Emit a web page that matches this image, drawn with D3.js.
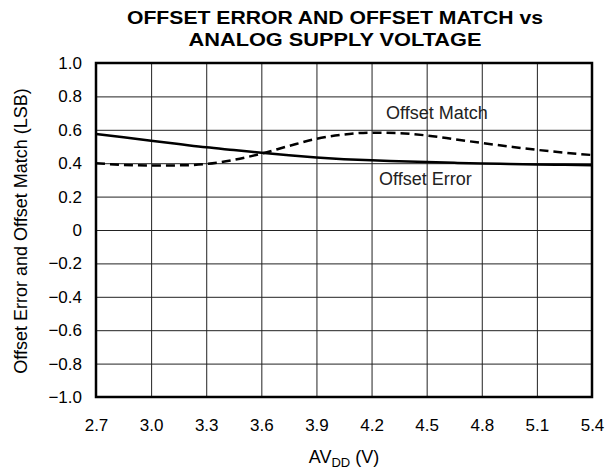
<!DOCTYPE html>
<html>
<head>
<meta charset="utf-8">
<script src="https://cdn.jsdelivr.net/npm/d3@7"></script>
<style>
  body { margin: 0; background: #fff; }
  svg { display: block; font-family: "Liberation Sans", Arial, sans-serif; }
</style>
</head>
<body>
<svg></svg>
<script>
// supply voltage (V)
const voltage = [2.7, 2.85, 3.0, 3.15, 3.3, 3.45, 3.6, 3.75, 3.9, 4.05, 4.2, 4.35, 4.5, 4.65, 4.8, 4.95, 5.1, 5.25, 5.4];
// offset error (LSB)
const offsetError = [0.575, 0.555, 0.535, 0.515, 0.495, 0.479, 0.463, 0.447, 0.434, 0.424, 0.417, 0.412, 0.407, 0.402, 0.398, 0.395, 0.392, 0.390, 0.388];
// offset match (LSB)
const offsetMatch = [0.400, 0.390, 0.386, 0.387, 0.395, 0.420, 0.457, 0.503, 0.546, 0.572, 0.583, 0.580, 0.566, 0.544, 0.521, 0.500, 0.480, 0.463, 0.449];

const xTicks = [2.7, 3.0, 3.3, 3.6, 3.9, 4.2, 4.5, 4.8, 5.1, 5.4];
const yTicks = [-1.0, -0.8, -0.6, -0.4, -0.2, 0, 0.2, 0.4, 0.6, 0.8, 1.0];

const W = 607, H = 473;
const plotLeft = 96, plotRight = 592, plotTop = 63, plotBottom = 397;
const width = plotRight - plotLeft;
const height = plotBottom - plotTop;

const svg = d3.select('svg')
              .attr('width', W)
              .attr('height', H);

const xScale = d3.scaleLinear()
                 .domain([2.7, 5.4])
                 .range([plotLeft, plotRight]);

const yScale = d3.scaleLinear()
                 .domain([-1, 1])
                 .range([plotBottom, plotTop]);

const fmtY = d => d === 0 ? '0' : d3.format('.1f')(d).replace('-', '\u2212');

// grid lines
svg.append('g')
   .attr('transform', `translate(${plotLeft},0)`)
   .call(d3.axisLeft(yScale).tickValues(yTicks).tickSize(-width).tickFormat(''))
   .call(g => g.select('.domain').remove())
   .call(g => g.selectAll('line').attr('stroke', '#222').attr('stroke-width', 1));

svg.append('g')
   .attr('transform', `translate(0,${plotBottom})`)
   .call(d3.axisBottom(xScale).tickValues(xTicks).tickSize(-height).tickFormat(''))
   .call(g => g.select('.domain').remove())
   .call(g => g.selectAll('line').attr('stroke', '#222').attr('stroke-width', 1));

// tick labels
svg.append('g')
   .attr('transform', `translate(${plotLeft},0)`)
   .call(d3.axisLeft(yScale).tickValues(yTicks).tickSize(0).tickPadding(14).tickFormat(fmtY))
   .call(g => g.select('.domain').remove())
   .call(g => g.selectAll('text').attr('font-size', 17).attr('fill', '#000')
                .attr('font-family', '"Liberation Sans", Arial, sans-serif'));

svg.append('g')
   .attr('transform', `translate(0,${plotBottom})`)
   .call(d3.axisBottom(xScale).tickValues(xTicks).tickSize(0).tickPadding(22).tickFormat(d3.format('.1f')))
   .call(g => g.select('.domain').remove())
   .call(g => g.selectAll('text').attr('font-size', 17).attr('fill', '#000')
                .attr('font-family', '"Liberation Sans", Arial, sans-serif'));

// frame
svg.append('rect')
   .attr('x', plotLeft)
   .attr('y', plotTop)
   .attr('width', width)
   .attr('height', height)
   .attr('fill', 'none')
   .attr('stroke', '#000')
   .attr('stroke-width', 2.5);

// curves
const line = series => d3.line()
                         .x((d, i) => xScale(voltage[i]))
                         .y(d => yScale(d))
                         .curve(d3.curveMonotoneX)(series);

svg.append('path')
   .attr('d', line(offsetError))
   .attr('fill', 'none')
   .attr('stroke', '#000')
   .attr('stroke-width', 2.5);

svg.append('path')
   .attr('d', line(offsetMatch))
   .attr('fill', 'none')
   .attr('stroke', '#000')
   .attr('stroke-width', 2.5)
   .attr('stroke-dasharray', '9,5');

// series labels
svg.append('text')
   .attr('x', 386)
   .attr('y', 119)
   .attr('font-size', 18)
   .attr('fill', '#222')
   .text('Offset Match');

svg.append('text')
   .attr('x', 379)
   .attr('y', 185)
   .attr('font-size', 18)
   .attr('fill', '#222')
   .text('Offset Error');

// title
const title = svg.append('text')
                 .attr('text-anchor', 'middle')
                 .attr('font-size', 18.5)
                 .attr('font-weight', 'bold');
title.append('tspan').attr('x', 335).attr('y', 24)
     .attr('textLength', 416).attr('lengthAdjust', 'spacingAndGlyphs')
     .text('OFFSET ERROR AND OFFSET MATCH vs');
title.append('tspan').attr('x', 335).attr('y', 46)
     .attr('textLength', 293).attr('lengthAdjust', 'spacingAndGlyphs')
     .text('ANALOG SUPPLY VOLTAGE');

// axis titles
const xt = svg.append('text')
              .attr('x', 344)
              .attr('y', 463)
              .attr('text-anchor', 'middle')
              .attr('font-size', 18);
xt.append('tspan').text('AV');
xt.append('tspan').attr('font-size', 13).attr('dy', 4).text('DD');
xt.append('tspan').attr('dy', -4).text(' (V)');

svg.append('text')
   .attr('transform', `translate(27,231) rotate(-90)`)
   .attr('text-anchor', 'middle')
   .attr('font-size', 18)
   .text('Offset Error and Offset Match (LSB)');
</script>
</body>
</html>
